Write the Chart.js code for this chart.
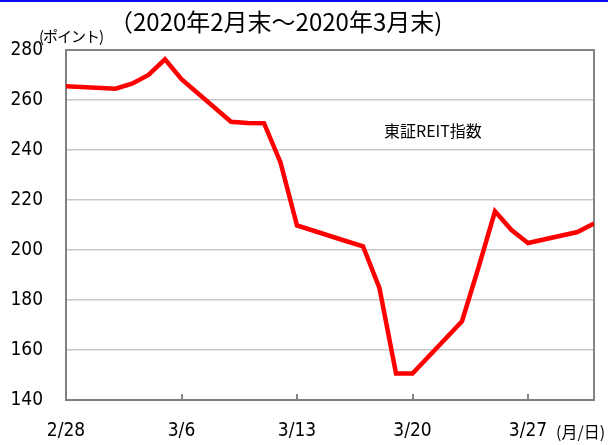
<!DOCTYPE html>
<html>
<head>
<meta charset="utf-8">
<script src="https://cdn.jsdelivr.net/npm/chart.js@4"></script>
<style>
  body { margin: 0; background: #fff; }
  #wrap { position: relative; width: 608px; height: 445px; }
  #topline { position: absolute; left: 0; top: 0; width: 608px; height: 2px; background: #0a0aff; }
  .txt { position: absolute; white-space: nowrap; color: #000; font-family: 'Noto Sans CJK JP', sans-serif; }
  #title { left: 109px; top: 3px; font-size: 24px; }
  #unitY { left: 39px; top: 25px; font-size: 15px; letter-spacing: -1px; }
  #unitX { left: 556px; top: 419px; font-size: 16px; }
  #label { left: 384px; top: 118px; font-size: 16px; }
</style>
</head>
<body>
<div id="wrap">
  <canvas id="c" width="608" height="445"></canvas>
  <div id="topline"></div>
  <div class="txt" id="title">（2020年2月末～2020年3月末)</div>
  <div class="txt" id="unitY">(ポイント)</div>
  <div class="txt" id="unitX">(月/日)</div>
  <div class="txt" id="label">東証REIT指数</div>
</div>
<script>
// 2020 trading days (3/20 holiday keeps previous close)
const dates = ['2/28','3/2','3/3','3/4','3/5','3/6','3/9','3/10','3/11','3/12','3/13',
  '3/16','3/17','3/18','3/19','3/20','3/23','3/24','3/25','3/26','3/27','3/30','3/31'];
const reit = [265.5, 264.5, 266.5, 270, 276.3, 268.3, 251.3, 250.8, 250.7, 235, 209.8,
  203.5, 201.5, 184.7, 150.6, 150.6, 171.5, 193, 215.5, 208, 202.8, 207.2, 210.6];
const tickLabels = ['2/28','3/6','3/13','3/20','3/27'];
const yMin = 140, yMax = 280, yStep = 20;

function dayOf(s) {
  const p = s.split('/');
  return (Date.UTC(2020, p[0] - 1, +p[1]) - Date.UTC(2020, 1, 28)) / 86400000;
}
const tickDays = tickLabels.map(dayOf);
const points = dates.map((d, i) => ({ x: dayOf(d), y: reit[i] }));

const tickFont = { family: "'DejaVu Sans Condensed', 'Liberation Sans', sans-serif", size: 19 };

const frame = {
  id: 'frame',
  beforeDatasetsDraw(chart) {
    const ctx = chart.ctx, a = chart.chartArea, xs = chart.scales.x;
    ctx.save();
    ctx.strokeStyle = '#858585';
    ctx.lineWidth = 2;
    ctx.beginPath();
    ctx.moveTo(a.left, a.top);
    ctx.lineTo(a.right, a.top);
    ctx.lineTo(a.right, a.bottom);
    tickDays.forEach(function(v) {
      if (v == 0) return;
      const px = Math.round(xs.getPixelForValue(v));
      ctx.moveTo(px, a.bottom);
      ctx.lineTo(px, a.bottom - 6);
    });
    ctx.stroke();
    ctx.restore();
  }
};

new Chart(document.getElementById('c'), {
  type: 'line',
  data: {
    datasets: [{
      data: points,
      borderColor: '#ff0000',
      borderWidth: 4.5,
      pointRadius: 0,
      tension: 0,
      borderJoinStyle: 'miter'
    }]
  },
  options: {
    responsive: false,
    animation: false,
    events: [],
    layout: { padding: { top: 50, right: 14, left: 0, bottom: 0 } },
    plugins: { legend: { display: false }, tooltip: { enabled: false } },
    scales: {
      x: {
        type: 'linear',
        min: 0,
        max: dayOf('3/31'),
        afterBuildTicks: function(scale) {
          scale.ticks = tickDays.map(v => ({ value: v }));
        },
        afterFit: function(scale) { scale.height = 45; },
        grid: { display: false, drawTicks: false },
        border: { display: true, color: '#808080', width: 2 },
        ticks: {
          autoSkip: false,
          maxRotation: 0,
          padding: 20,
          color: '#000',
          font: tickFont,
          callback: function(v) {
            const i = tickDays.indexOf(v);
            return i >= 0 ? tickLabels[i] : '';
          }
        }
      },
      y: {
        min: yMin,
        max: yMax,
        afterFit: function(scale) { scale.width = 66; },
        grid: { color: '#c8c8c8', lineWidth: 1.5, drawTicks: false },
        border: { display: true, color: '#808080', width: 2 },
        ticks: { stepSize: yStep, padding: 23, color: '#000', font: tickFont }
      }
    }
  },
  plugins: [frame]
});
</script>
</body>
</html>
